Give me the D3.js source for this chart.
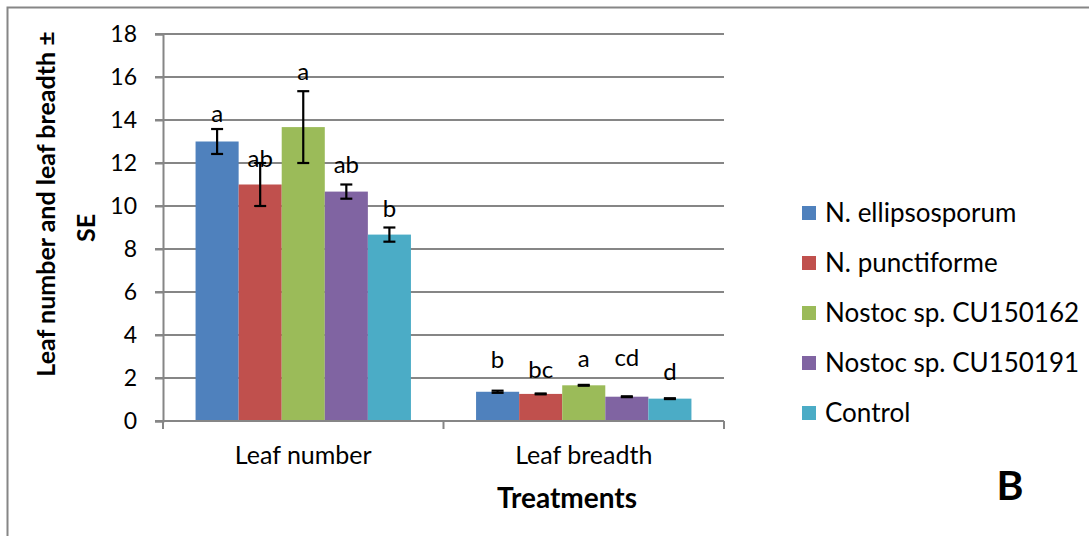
<!DOCTYPE html>
<html>
<head>
<meta charset="utf-8">
<script src="https://cdn.jsdelivr.net/npm/d3@7"></script>
<style>
  html, body { margin: 0; padding: 0; background: #fff; }
  svg text { font-family: Lato, "Open Sans", sans-serif; fill: #000; }
</style>
</head>
<body>
<svg id="chart" width="1089" height="536"></svg>
<script>
// ---- data ----
const categories = ["Leaf number", "Leaf breadth"];
const seriesNames = ["N. ellipsosporum", "N. punctiforme", "Nostoc sp. CU150162", "Nostoc sp. CU150191", "Control"];
const seriesColors = ["#4F81BD", "#C0504D", "#9BBB59", "#8064A2", "#4BACC6"];
// values[series][category]
const ellipsosporum = [13.0, 1.36];
const punctiforme   = [11.0, 1.26];
const cu150162      = [13.67, 1.66];
const cu150191      = [10.67, 1.13];
const control       = [8.67, 1.04];
const values = [ellipsosporum, punctiforme, cu150162, cu150191, control];
// standard errors
const seEllipsosporum = [0.58, 0.05];
const sePunctiforme   = [1.0, 0.02];
const se150162        = [1.67, 0.02];
const se150191        = [0.33, 0.02];
const seControl       = [0.33, 0.02];
const errors = [seEllipsosporum, sePunctiforme, se150162, se150191, seControl];
// significance letters and the level (in data units) where each was placed
const letters = [["a", "b"], ["ab", "bc"], ["a", "a"], ["ab", "cd"], ["b", "d"]];
const letterLevel = [[13.9, 2.47], [11.81, 2.0], [15.86, 2.51], [11.53, 2.56], [9.49, 1.91]];
const yTicks = [0, 2, 4, 6, 8, 10, 12, 14, 16, 18];

// ---- layout ----
const svg = d3.select("#chart");
const plot = { left: 163, right: 724, top: 34, bottom: 421 };
const gridColor = "#868686";

// outer frame
svg.append("path")
  .attr("d", "M7.5,540 V7.5 H1100")
  .attr("fill", "none").attr("stroke", gridColor).attr("stroke-width", 2);

const y = d3.scaleLinear().domain([0, 18]).range([plot.bottom, plot.top]);
const x0 = d3.scaleBand().domain(categories).range([plot.left, plot.right]).padding(0);
const x1 = d3.scaleBand().domain(seriesNames).range([0, x0.bandwidth()])
  .paddingInner(0).paddingOuter(0.756);

// gridlines
svg.append("g").selectAll("line").data(yTicks.filter(d => d > 0)).join("line")
  .attr("x1", plot.left - 8).attr("x2", plot.right)
  .attr("y1", d => y(d)).attr("y2", d => y(d))
  .attr("stroke", gridColor).attr("stroke-width", 2);

// y axis
const yAxis = svg.append("g").attr("transform", `translate(${plot.left},0)`)
  .call(d3.axisLeft(y).tickValues(yTicks).tickSize(8).tickPadding(18).tickFormat(d3.format("d")));
yAxis.select(".domain").attr("stroke", gridColor).attr("stroke-width", 2);
yAxis.selectAll(".tick line").attr("stroke", gridColor).attr("stroke-width", 2);
yAxis.selectAll(".tick text").attr("font-size", 23).attr("font-family", "Lato").attr("fill", "#000");

// bars
const groups = svg.append("g").selectAll("g").data(categories).join("g")
  .attr("transform", d => `translate(${x0(d)},0)`);

seriesNames.forEach((s, si) => {
  groups.append("rect")
    .attr("x", x1(s))
    .attr("width", x1.bandwidth())
    .attr("y", (c, ci) => y(values[si][ci]))
    .attr("height", (c, ci) => y(0) - y(values[si][ci]))
    .attr("fill", seriesColors[si]);
});

// x axis line & ticks
svg.append("line").attr("x1", plot.left - 8).attr("x2", plot.right)
  .attr("y1", y(0)).attr("y2", y(0)).attr("stroke", gridColor).attr("stroke-width", 2);
const xEdges = categories.map(c => x0(c)).concat([x0(categories[categories.length - 1]) + x0.bandwidth()]);
svg.append("g").selectAll("line").data(xEdges).join("line")
  .attr("x1", d => d).attr("x2", d => d)
  .attr("y1", y(0)).attr("y2", y(0) + 8)
  .attr("stroke", gridColor).attr("stroke-width", 2);

// error bars
seriesNames.forEach((s, si) => {
  categories.forEach((c, ci) => {
    const cx = x0(c) + x1(s) + x1.bandwidth() / 2;
    const v = values[si][ci], e = errors[si][ci];
    const g = svg.append("g").attr("stroke", "#000").attr("stroke-width", 2.2);
    g.append("line").attr("x1", cx).attr("x2", cx).attr("y1", y(v - e)).attr("y2", y(v + e));
    g.append("line").attr("x1", cx - 6).attr("x2", cx + 6).attr("y1", y(v - e)).attr("y2", y(v - e));
    g.append("line").attr("x1", cx - 6).attr("x2", cx + 6).attr("y1", y(v + e)).attr("y2", y(v + e));
    svg.append("text")
      .attr("x", cx).attr("y", y(letterLevel[si][ci]))
      .attr("text-anchor", "middle").attr("font-size", 24)
      .text(letters[si][ci]);
  });
});

// category labels
svg.append("g").selectAll("text").data(categories).join("text")
  .attr("x", d => x0(d) + x0.bandwidth() / 2).attr("y", 464)
  .attr("text-anchor", "middle").attr("font-size", 25).text(d => d);

// axis titles
svg.append("text").attr("x", 567).attr("y", 508).attr("text-anchor", "middle")
  .attr("font-size", 28).attr("font-weight", "bold").text("Treatments");
svg.append("text").attr("transform", "translate(55,204) rotate(-90)")
  .attr("text-anchor", "middle").attr("font-size", 25).attr("font-weight", "bold")
  .text("Leaf number and leaf breadth ±");
svg.append("text").attr("transform", "translate(95,228) rotate(-90)")
  .attr("text-anchor", "middle").attr("font-size", 25).attr("font-weight", "bold")
  .text("SE");

// legend
const legend = svg.append("g").attr("transform", "translate(802,213)");
const li = legend.selectAll("g").data(seriesNames).join("g")
  .attr("transform", (d, i) => `translate(0,${i * 50})`);
li.append("rect").attr("x", 0).attr("y", -7).attr("width", 14).attr("height", 14)
  .attr("fill", (d, i) => seriesColors[i]);
li.append("text").attr("x", 23).attr("y", 9).attr("font-size", 26).text(d => d);

// panel letter
svg.append("text").attr("x", 1010).attr("y", 500).attr("text-anchor", "middle")
  .attr("font-size", 41).attr("font-weight", "bold").text("B");
</script>
</body>
</html>
